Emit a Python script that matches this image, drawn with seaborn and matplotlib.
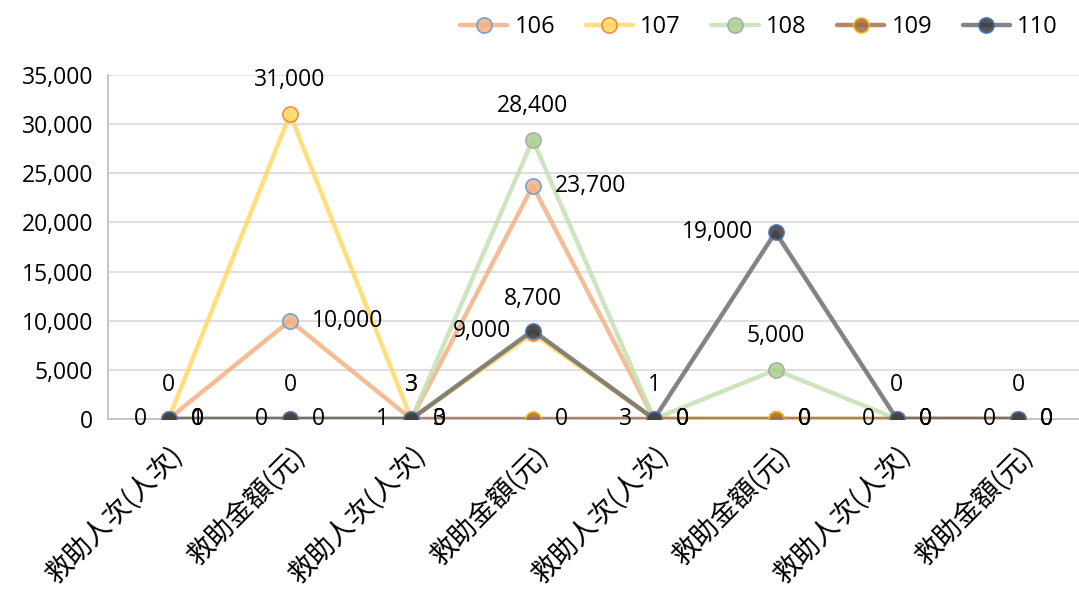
import pandas as pd
import seaborn as sns
import matplotlib.pyplot as plt
from matplotlib.ticker import FuncFormatter, FixedLocator

# categories along the x axis (same two items repeated four times)
categories = ["救助人次(人次)", "救助金額(元)", "救助人次(人次)", "救助金額(元)",
              "救助人次(人次)", "救助金額(元)", "救助人次(人次)", "救助金額(元)"]

# one list per year (民國 year)
y106 = [1, 10000, 3, 23700, 0, 0, 0, 0]
y107 = [0, 31000, 3, 8700, 0, 0, 0, 0]
y108 = [0, 0, 3, 28400, 1, 5000, 0, 0]
y109 = [0, 0, 0, 0, 0, 0, 0, 0]
y110 = [0, 0, 1, 9000, 3, 19000, 0, 0]

years = ["106", "107", "108", "109", "110"]
values = [y106, y107, y108, y109, y110]

# line colour, marker face, marker edge, label side
styles = {
    "106": ("#F4B183", "#F4B183", "#5B9BD5", "right"),
    "107": ("#FFD966", "#FFD966", "#ED7D31", "above"),
    "108": ("#C5E0B4", "#A9D18E", "#A5A5A5", "above"),
    "109": ("#A8724C", "#9E6B45", "#FFC000", "right"),
    "110": ("#6F6F6F", "#3A3A3A", "#4472C4", "left"),
}

rows = []
for yr, vals in zip(years, values):
    for i, v in enumerate(vals):
        rows.append({"year": yr, "pos": i, "value": v})
df = pd.DataFrame(rows)

sns.set_theme(style="white")
plt.rcParams['font.family'] = ['Open Sans', 'Noto Sans CJK TC', 'DejaVu Sans']
plt.rcParams['text.color'] = 'black'
plt.rcParams['xtick.color'] = 'black'
plt.rcParams['ytick.color'] = 'black'

fig = plt.figure(figsize=(10.79, 5.89), dpi=100)
ax = fig.add_axes([0.1, 0.2886, 0.9, 0.5841])

for yr in years:
    line_c, face_c, edge_c, side = styles[yr]
    d = df[df["year"] == yr]
    sns.lineplot(data=d, x="pos", y="value", ax=ax, color=line_c, lw=3.2, alpha=0.85,
                 marker="o", ms=11, markerfacecolor=face_c, markeredgecolor=edge_c,
                 markeredgewidth=1.2, label=yr, zorder=3)

# data labels, same side for each series like the original
for yr in years:
    side = styles[yr][3]
    d = df[df["year"] == yr]
    for x, v in zip(d["pos"], d["value"]):
        txt = f"{v:,}"
        s = side
        if yr == "107" and v == 0:
            s = "right"
        if s == "above":
            ax.annotate(txt, (x, v), xytext=(0, 34), textcoords="offset pixels",
                        ha="center", va="center", fontsize=16.5, zorder=5)
        elif s == "right":
            ax.annotate(txt, (x, v), xytext=(22, 0), textcoords="offset pixels",
                        ha="left", va="center", fontsize=16.5, zorder=5)
        else:
            ax.annotate(txt, (x, v), xytext=(-22, 0), textcoords="offset pixels",
                        ha="right", va="center", fontsize=16.5, zorder=5)

ax.set_xlim(-0.5, 7.5)
ax.set_ylim(0, 35000)
ax.set_yticks(range(0, 35001, 5000))
ax.yaxis.set_major_formatter(FuncFormatter(lambda v, p: f"{int(v):,}"))
ax.set_xticks(range(len(categories)))
ax.set_xticklabels(categories, rotation=45, ha="right", rotation_mode="anchor",
                   fontsize=19.5, family=['Noto Sans CJK TC', 'DejaVu Sans'])
ax.xaxis.set_minor_locator(FixedLocator([i + 0.5 for i in range(-1, 8)]))
ax.tick_params(axis="x", which="major", length=0, pad=16)
ax.tick_params(axis="x", which="minor", length=7, color="#BFBFBF", direction="out")
ax.tick_params(axis="y", length=7, color="#BFBFBF", direction="inout", labelsize=16.5, pad=7)
ax.set_xlabel("")
ax.set_ylabel("")
ax.grid(axis="y", color="#D9D9D9", lw=1.2)
ax.set_axisbelow(True)
for s in ["top", "right"]:
    ax.spines[s].set_visible(False)
ax.spines["left"].set_color("#BFBFBF")
ax.spines["bottom"].set_color("#BFBFBF")

ax.get_legend().remove()
h, l = ax.get_legend_handles_labels()
fig.legend(h, l, ncol=5, loc="upper right", bbox_to_anchor=(1.0, 1.01), frameon=False,
           fontsize=17, handlelength=2.0, columnspacing=1.3, handletextpad=0.3)

fig.savefig("out.png", dpi=100)
